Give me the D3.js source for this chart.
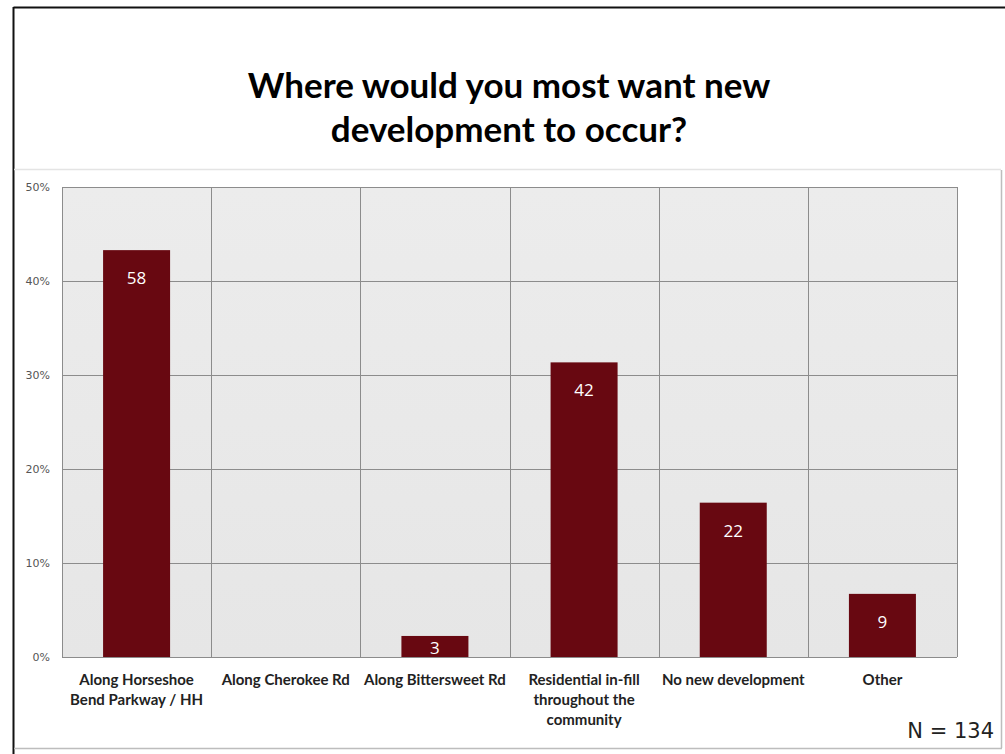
<!DOCTYPE html>
<html>
<head>
<meta charset="utf-8">
<script src="https://cdn.jsdelivr.net/npm/d3@7"></script>
<style>
  html, body { margin: 0; padding: 0; background: #fff; }
  svg { display: block; }
</style>
</head>
<body>
<svg id="chart" width="1005" height="754"></svg>
<script>
// Survey responses: count of respondents choosing each location
const categories = [
  ["Along Horseshoe", "Bend Parkway / HH"],
  ["Along Cherokee Rd"],
  ["Along Bittersweet Rd"],
  ["Residential in-fill", "throughout the", "community"],
  ["No new development"],
  ["Other"]
];
const counts = [58, 0, 3, 42, 22, 9];
const total = 134;
const yTicks = [0, 0.1, 0.2, 0.3, 0.4, 0.5];
const titleLines = ["Where would you most want new", "development to occur?"];

const svg = d3.select("#chart");
const W = 1005, H = 754;

// frame
svg.append("line").attr("x1", 13.5).attr("x2", W).attr("y1", 7.5).attr("y2", 7.5)
  .attr("stroke", "#111").attr("stroke-width", 2);
svg.append("line").attr("x1", 13.5).attr("x2", 13.5).attr("y1", 7).attr("y2", H)
  .attr("stroke", "#111").attr("stroke-width", 2);
svg.append("line").attr("x1", 14).attr("x2", 1001).attr("y1", 169.5).attr("y2", 169.5)
  .attr("stroke", "#e4e4e4").attr("stroke-width", 1.5);
svg.append("line").attr("x1", 1001.5).attr("x2", 1001.5).attr("y1", 170).attr("y2", 748)
  .attr("stroke", "#bdbdbd").attr("stroke-width", 1.5);
svg.append("line").attr("x1", 14).attr("x2", 1002).attr("y1", 748.5).attr("y2", 748.5)
  .attr("stroke", "#bdbdbd").attr("stroke-width", 1.5);

// title
svg.append("g").selectAll("text").data(titleLines).join("text")
  .attr("x", 509).attr("y", (d, i) => 98 + i * 44)
  .attr("text-anchor", "middle")
  .attr("font-family", "Lato, 'Open Sans', sans-serif")
  .attr("font-weight", "bold").attr("font-size", 35).attr("fill", "#000")
  .text(d => d);

// plot area
const plotL = 62, plotR = 957, plotT = 187, plotB = 657;
const x = d3.scaleBand().domain(d3.range(counts.length)).range([plotL, plotR]).paddingInner(0).paddingOuter(0);
const y = d3.scaleLinear().domain([0, 0.5]).range([plotB, plotT]);

const defs = svg.append("defs");
const grad = defs.append("linearGradient").attr("id", "plotbg").attr("x1", 0).attr("x2", 0).attr("y1", 0).attr("y2", 1);
grad.append("stop").attr("offset", "0%").attr("stop-color", "#ececec");
grad.append("stop").attr("offset", "100%").attr("stop-color", "#e6e6e6");

svg.append("rect").attr("x", plotL).attr("y", plotT).attr("width", plotR - plotL).attr("height", plotB - plotT)
  .attr("fill", "url(#plotbg)");

// horizontal gridlines
svg.append("g").selectAll("line").data(yTicks).join("line")
  .attr("x1", plotL).attr("x2", plotR)
  .attr("y1", d => Math.round(y(d)) + 0.5).attr("y2", d => Math.round(y(d)) + 0.5)
  .attr("stroke", "#8c8c8c").attr("stroke-width", 1);

// vertical gridlines at band edges
const edges = d3.range(counts.length + 1).map(i => i < counts.length ? x(i) : plotR);
svg.append("g").selectAll("line").data(edges).join("line")
  .attr("x1", d => Math.round(d) + 0.5).attr("x2", d => Math.round(d) + 0.5)
  .attr("y1", plotT).attr("y2", plotB)
  .attr("stroke", "#8c8c8c").attr("stroke-width", 1);

// y-axis tick labels
const yAxis = d3.axisLeft(y).tickValues(yTicks).tickFormat(d3.format(".0%")).tickSize(0).tickPadding(0);
const ya = svg.append("g").attr("transform", `translate(50,0)`).call(yAxis);
ya.select(".domain").remove();
ya.selectAll("text").attr("font-family", "'DejaVu Sans', sans-serif").attr("font-size", 11)
  .attr("fill", "#555");

// bars
const barW = 67;
const bars = svg.append("g").selectAll("g").data(counts).join("g");
bars.append("rect")
  .attr("x", (d, i) => x(i) + x.bandwidth() / 2 - barW / 2)
  .attr("y", d => y(d / total))
  .attr("width", barW)
  .attr("height", d => plotB - y(d / total))
  .attr("fill", "#680811")
  .attr("opacity", d => d > 0 ? 1 : 0);

// value labels inside bars
bars.filter(d => d > 0).append("text")
  .attr("x", d => x(counts.indexOf(d)) + x.bandwidth() / 2)
  .attr("y", d => {
    const h = plotB - y(d / total);
    return h > 40 ? y(d / total) + 34 : y(d / total) + h / 2 + 8;
  })
  .attr("text-anchor", "middle")
  .attr("font-family", "'Open Sans', sans-serif").attr("font-size", 17)
  .attr("fill", "#fff")
  .text(d => d);

// category labels
const xl = svg.append("g").selectAll("text").data(categories).join("text")
  .attr("text-anchor", "middle")
  .attr("font-family", "Lato, 'Open Sans', sans-serif")
  .attr("font-weight", "bold").attr("font-size", 15).attr("fill", "#222");
xl.selectAll("tspan").data((d, i) => d.map(t => ({ t, i }))).join("tspan")
  .attr("x", d => x(d.i) + x.bandwidth() / 2)
  .attr("y", (d, j) => 685 + j * 20)
  .text(d => d.t);

// sample size
svg.append("text").attr("x", 994).attr("y", 738).attr("text-anchor", "end")
  .attr("font-family", "'DejaVu Sans', sans-serif").attr("font-size", 21).attr("fill", "#222")
  .text("N = " + total);
</script>
</body>
</html>
